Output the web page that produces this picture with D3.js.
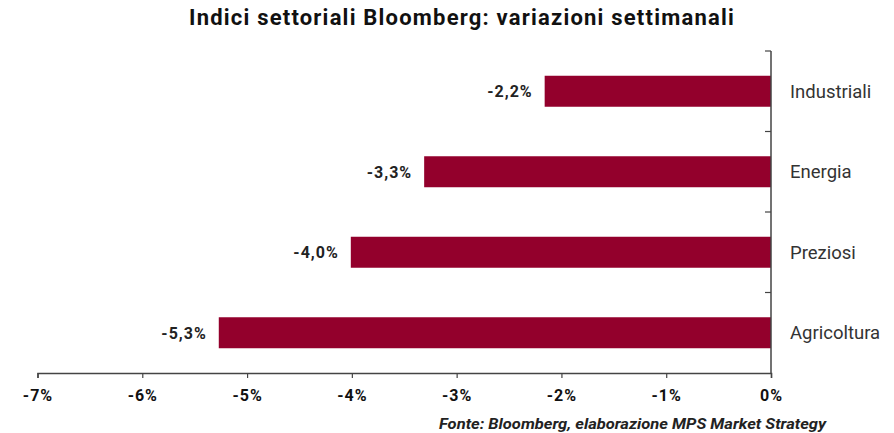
<!DOCTYPE html>
<html>
<head>
<meta charset="utf-8">
<script src="https://cdn.jsdelivr.net/npm/d3@7"></script>
<style>
  body { margin: 0; background: #fff; }
  text { font-family: Roboto, "Liberation Sans", sans-serif; }
</style>
</head>
<body>
<svg id="chart" width="894" height="433"></svg>
<script>
// data
const categories = ["Industriali", "Energia", "Preziosi", "Agricoltura"];
const values = [-2.16, -3.31, -4.01, -5.27];
const tickValues = [-7, -6, -5, -4, -3, -2, -1, 0];

const svg = d3.select("#chart");
const margin = { top: 51, right: 123, bottom: 60, left: 37.5 };
const width = 894 - margin.left - margin.right;
const height = 433 - margin.top - margin.bottom;

const x = d3.scaleLinear().domain([-7, 0]).range([margin.left, margin.left + width]);
const y = d3.scaleBand().domain(categories).range([margin.top, margin.top + height]);
const barH = y.bandwidth() * 0.385;

// title
svg.append("text")
    .attr("x", 462)
    .attr("y", 25)
    .attr("text-anchor", "middle")
    .attr("font-size", "22px")
    .attr("font-weight", "bold")
    .attr("letter-spacing", "1.2px")
    .attr("fill", "#111")
    .text("Indici settoriali Bloomberg: variazioni settimanali");

// bars
svg.selectAll("rect.bar")
    .data(categories)
    .join("rect")
    .attr("class", "bar")
    .attr("x", (d, i) => x(values[i]))
    .attr("y", d => y(d) + (y.bandwidth() - barH) / 2)
    .attr("width", (d, i) => x(0) - x(values[i]))
    .attr("height", barH)
    .attr("fill", "#93002c");

// value labels
const fmt = d3.format(".1f");
svg.selectAll("text.value")
    .data(categories)
    .join("text")
    .attr("class", "value")
    .attr("x", (d, i) => x(values[i]) - 12)
    .attr("y", d => y(d) + y.bandwidth() / 2)
    .attr("dy", "0.36em")
    .attr("text-anchor", "end")
    .attr("font-family", "'Liberation Sans', Arial, sans-serif")
    .attr("font-size", "16px")
    .attr("font-weight", "bold")
    .attr("letter-spacing", "1px")
    .attr("fill", "#222")
    .text((d, i) => fmt(values[i]).replace(".", ",").replace("−", "-") + "%");

// x axis
const xAxis = svg.append("g")
    .attr("transform", `translate(0,${margin.top + height})`)
    .call(d3.axisBottom(x).tickValues(tickValues).tickSize(5).tickPadding(12)
        .tickFormat(d => d + "%"));
xAxis.select(".domain").attr("stroke", "#444").attr("stroke-width", 1.5);
xAxis.selectAll(".tick line").attr("stroke", "#444").attr("stroke-width", 1.2);
xAxis.selectAll(".tick text")
    .text(d => String(d).replace("−", "-") + "%")
    .attr("font-size", "16px")
    .attr("font-weight", "bold")
    .attr("letter-spacing", "1px")
    .attr("font-family", "Roboto, sans-serif")
    .attr("fill", "#111");

// y axis at zero, ticks between categories pointing left
const yAxisG = svg.append("g");
yAxisG.append("line")
    .attr("x1", x(0)).attr("x2", x(0))
    .attr("y1", margin.top).attr("y2", margin.top + height)
    .attr("stroke", "#444").attr("stroke-width", 1.5);
yAxisG.selectAll("line.tick")
    .data(categories)
    .join("line")
    .attr("class", "tick")
    .attr("x1", x(0) - 6).attr("x2", x(0))
    .attr("y1", d => y(d)).attr("y2", d => y(d))
    .attr("stroke", "#444").attr("stroke-width", 1.2);

// category labels on the right
svg.selectAll("text.cat")
    .data(categories)
    .join("text")
    .attr("class", "cat")
    .attr("x", x(0) + 19)
    .attr("y", d => y(d) + y.bandwidth() / 2)
    .attr("dy", "0.35em")
    .attr("font-size", "18.5px")
    .attr("fill", "#333")
    .text(d => d);

// source note
svg.append("text")
    .attr("x", 826)
    .attr("y", 429)
    .attr("text-anchor", "end")
    .attr("font-size", "14px")
    .attr("font-weight", "bold")
    .attr("font-style", "italic")
    .attr("fill", "#222")
    .attr("textLength", 387)
    .attr("lengthAdjust", "spacingAndGlyphs")
    .text("Fonte: Bloomberg,  elaborazione  MPS Market  Strategy");
</script>
</body>
</html>
